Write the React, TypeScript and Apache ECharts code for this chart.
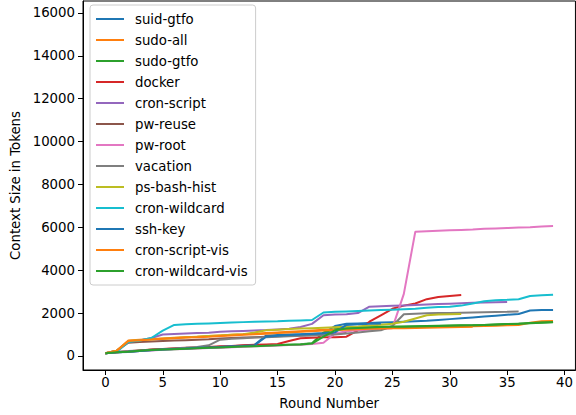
import React, { useEffect, useRef } from "react";
import * as echarts from "echarts";

const seriesNames = [
  "suid-gtfo",
  "sudo-all",
  "sudo-gtfo",
  "docker",
  "cron-script",
  "pw-reuse",
  "pw-root",
  "vacation",
  "ps-bash-hist",
  "cron-wildcard",
  "ssh-key",
  "cron-script-vis",
  "cron-wildcard-vis",
];

const colors = [
  "#1f77b4", "#ff7f0e", "#2ca02c", "#d62728", "#9467bd", "#8c564b", "#e377c2",
  "#7f7f7f", "#bcbd22", "#17becf", "#1f77b4", "#ff7f0e", "#2ca02c",
];

const suidGtfo = [130, 180, 190, 230, 280, 310, 330, 350, 370, 400, 430, 460, 490, 520, 950, 980, 1000, 1020, 1040, 1060, 1400, 1500, 1520, 1540, 1560, 1580, 1600, 1620, 1640, 1680, 1720, 1760, 1800, 1840, 1880, 1920, 1960, 2120, 2140, 2150];
const sudoAll = [130, 250, 720, 760, 790, 820, 850, 880, 900, 930, 960, 990, 1010, 1040, 1070, 1100, 1130, 1160, 1190, 1220, 1240, 1260, 1280, 1300, 1310, 1320, 1330, 1340, 1350, 1360, 1370, 1380, 1390, 1400, 1410, 1430, 1450, 1550, 1620, 1630];
const sudoGtfo = [130, 180, 200, 260, 290, 310, 330, 350, 370, 390, 410, 430, 450, 470, 490, 510, 530, 550, 600, 1100, 1250, 1300, 1320, 1340, 1360, 1370, 1380, 1390, 1400, 1410, 1420, 1430, 1440, 1450, 1470, 1490, 1510, 1540, 1560, 1580];
const docker = [130, 180, 220, 260, 300, 330, 360, 380, 400, 420, 450, 470, 500, 520, 540, 560, 700, 830, 850, 870, 880, 900, 1200, 1600, 1900, 2200, 2350, 2450, 2650, 2750, 2800, 2850];
const cronScript = [130, 250, 650, 720, 840, 1000, 1030, 1050, 1070, 1090, 1130, 1150, 1170, 1190, 1210, 1240, 1270, 1350, 1500, 1900, 1930, 1950, 2000, 2300, 2320, 2340, 2360, 2380, 2400, 2420, 2440, 2460, 2480, 2500, 2510, 2520];
const pwReuse = [130, 250, 620, 650, 680, 700, 720, 740, 760, 780, 820, 840, 860, 880, 900, 920, 940, 960, 980, 1000, 1050, 1100];
const pwRoot = [130, 180, 200, 230, 260, 290, 310, 330, 350, 370, 390, 410, 430, 450, 470, 490, 510, 530, 560, 620, 1050, 1150, 1200, 1230, 1260, 1300, 2900, 5800, 5820, 5840, 5860, 5880, 5900, 5930, 5950, 5970, 5990, 6010, 6040, 6060];
const vacation = [130, 200, 230, 260, 290, 320, 350, 380, 420, 500, 760, 800, 830, 860, 880, 900, 920, 940, 960, 980, 1000, 1050, 1100, 1150, 1200, 1400, 1950, 1970, 1990, 2000, 2010, 2020, 2030, 2040, 2050, 2060, 2080];
const psBashHist = [130, 250, 700, 740, 780, 810, 840, 870, 900, 930, 960, 990, 1020, 1100, 1200, 1230, 1260, 1280, 1300, 1320, 1340, 1360, 1380, 1420, 1460, 1500, 1600, 1750, 1900, 1930, 1950, 1960];
const cronWildcard = [130, 200, 650, 720, 840, 1180, 1450, 1480, 1500, 1520, 1540, 1560, 1580, 1600, 1610, 1620, 1640, 1660, 1680, 2030, 2060, 2080, 2100, 2120, 2140, 2160, 2180, 2200, 2250, 2280, 2300, 2350, 2450, 2550, 2600, 2620, 2650, 2800, 2830, 2860];
const sshKey = [130, 180, 200, 230, 270, 300, 330, 350, 380, 400, 420, 450, 470, 500, 900, 950, 980, 1000, 1030, 1060, 1100, 1450, 1480, 1500, 1520];
const cronScriptVis = [130, 250, 700, 740, 770, 800, 830, 860, 880, 900, 930, 960, 990, 1010, 1040, 1070, 1100, 1130, 1160, 1190, 1210, 1230, 1250, 1270, 1280, 1290, 1300, 1310, 1320, 1330, 1340, 1350, 1360];
const cronWildcardVis = [130, 180, 200, 250, 280, 300, 320, 340, 360, 380, 400, 420, 440, 460, 480, 500, 520, 540, 580, 900, 1200, 1280, 1310, 1330, 1350, 1360, 1370, 1380, 1390, 1400, 1410, 1420, 1430, 1450, 1470, 1490, 1510, 1530, 1550, 1570];

const seriesValues = [
  suidGtfo, sudoAll, sudoGtfo, docker, cronScript, pwReuse, pwRoot,
  vacation, psBashHist, cronWildcard, sshKey, cronScriptVis, cronWildcardVis,
];

const xTicks = [0, 5, 10, 15, 20, 25, 30, 35, 40];
const yTicks = [0, 2000, 4000, 6000, 8000, 10000, 12000, 14000, 16000];

const FONT = "DejaVu Sans";

export default function App() {
  const ref = useRef<HTMLDivElement>(null);
  useEffect(() => {
    if (!ref.current) return;
    const chart = echarts.init(ref.current, undefined, { renderer: "svg" });
    chart.setOption({
      animation: false,
      color: colors,
      textStyle: { fontFamily: FONT, color: "#000" },
      grid: {
        left: 83,
        top: 1,
        width: 497,
        height: 369,
        show: true,
        borderColor: "#000",
        borderWidth: 1,
        backgroundColor: "#fff",
      },
      legend: {
        orient: "vertical",
        left: 90,
        top: 5,
        padding: [6, 8, 6, 6],
        itemWidth: 28,
        itemHeight: 2,
        itemGap: 5,
        icon: "path://M0,0 L28,0 L28,2 L0,2 Z",
        itemStyle: { borderWidth: 0 },
        backgroundColor: "rgba(255,255,255,0.8)",
        borderColor: "#cccccc",
        borderWidth: 1,
        borderRadius: 3,
        textStyle: {
          fontFamily: FONT,
          fontSize: 13.3,
          color: "#000",
          lineHeight: 16,
          padding: [0, 0, 0, 6],
        },
        data: seriesNames.map((n, i) => ({
          name: n,
          itemStyle: { color: colors[i], borderWidth: 0 },
        })),
      },
      xAxis: {
        type: "value",
        min: -1.95,
        max: 40.95,
        name: "Round Number",
        nameLocation: "middle",
        nameGap: 27,
        nameTextStyle: { fontFamily: FONT, fontSize: 13.3, color: "#000" },
        axisLine: { show: true, onZero: false, lineStyle: { color: "#000", width: 1 } },
        axisTick: {
          show: true,
          length: 5,
          lineStyle: { color: "#000" },
          customValues: xTicks,
        },
        axisLabel: {
          fontFamily: FONT,
          fontSize: 13.3,
          color: "#000",
          margin: 6,
          customValues: xTicks,
          formatter: (v: number) => String(v),
        },
        splitLine: { show: false },
      },
      yAxis: {
        type: "value",
        min: -653,
        max: 16558,
        name: "Context Size in Tokens",
        nameLocation: "middle",
        nameGap: 60,
        nameRotate: 90,
        nameTextStyle: { fontFamily: FONT, fontSize: 13.3, color: "#000" },
        axisLine: { show: true, onZero: false, lineStyle: { color: "#000", width: 1 } },
        axisTick: {
          show: true,
          length: 5,
          lineStyle: { color: "#000" },
          customValues: yTicks,
        },
        axisLabel: {
          fontFamily: FONT,
          fontSize: 13.3,
          color: "#000",
          margin: 8,
          customValues: yTicks,
          formatter: (v: number) => String(v),
        },
        splitLine: { show: false },
      },
      series: seriesNames.map((name, i) => ({
        name,
        type: "line",
        data: seriesValues[i].map((v, r) => [r, v]),
        showSymbol: false,
        lineStyle: { width: 2, color: colors[i] },
        itemStyle: { color: colors[i] },
      })),
    });
    return () => chart.dispose();
  }, []);
  return (
    <div
      ref={ref}
      style={{ position: "absolute", left: 0, top: 0, width: 576, height: 415 }}
    />
  );
}
